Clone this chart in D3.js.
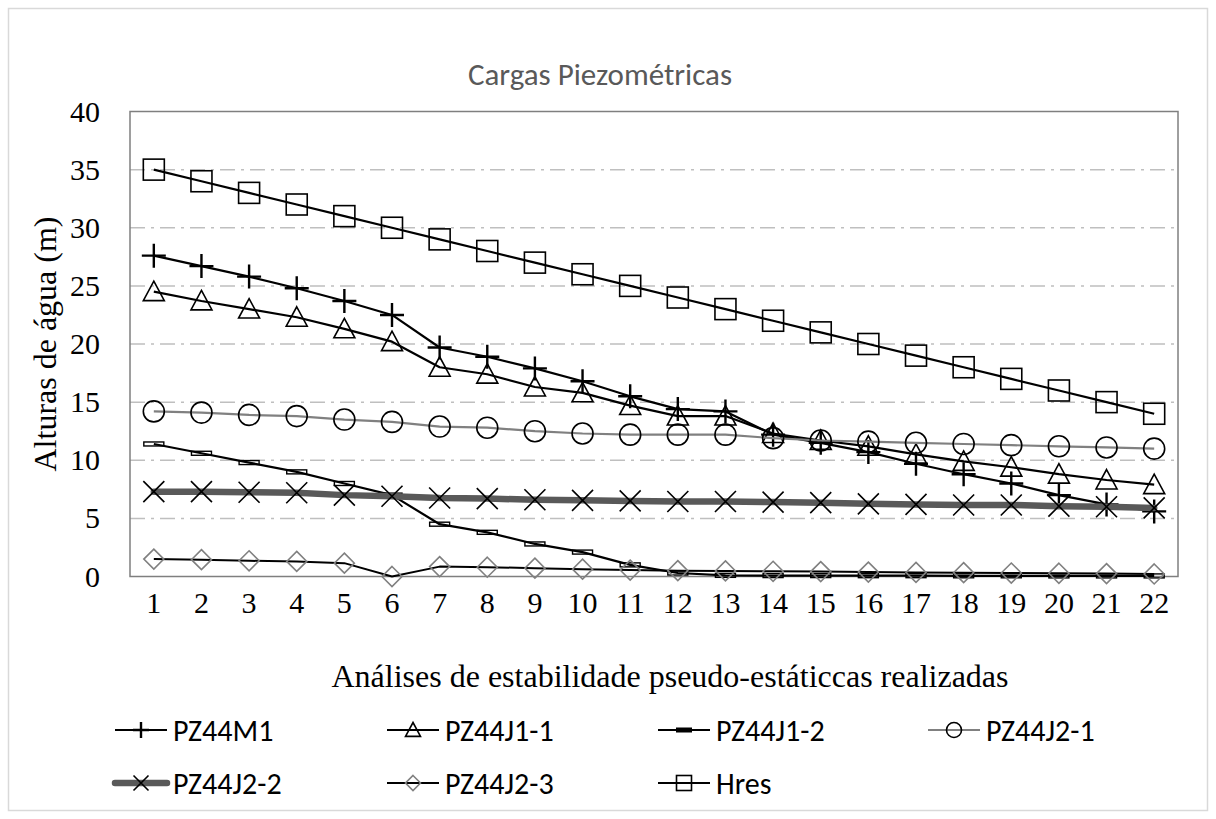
<!DOCTYPE html>
<html>
<head>
<meta charset="utf-8">
<script src="https://cdn.jsdelivr.net/npm/d3@7"></script>
<style>
  html, body { margin: 0; padding: 0; background: #fff; }
  svg { display: block; }
</style>
</head>
<body>
<svg id="chart" width="1216" height="819"></svg>
<script>
// Analysis runs (x categories)
const categories = d3.range(1, 23).map(String);

// Piezometric heads (m) per analysis
const pz44m1  = [27.6, 26.7, 25.8, 24.8, 23.7, 22.5, 19.7, 18.9, 17.9, 16.8, 15.5, 14.4, 14.2, 12.2, 11.5, 10.7, 9.7, 8.8, 8.0, 7.0, 6.2, 5.6];
const pz44j1_1 = [24.5, 23.7, 23.0, 22.3, 21.3, 20.2, 18.0, 17.4, 16.3, 15.8, 14.7, 13.8, 13.8, 12.3, 11.7, 11.2, 10.5, 9.9, 9.4, 8.8, 8.3, 7.9];
const pz44j1_2 = [11.4, 10.6, 9.8, 9.0, 8.0, 7.0, 4.5, 3.8, 2.8, 2.1, 1.0, 0.3, 0.1, 0.08, 0.08, 0.07, 0.07, 0.06, 0.06, 0.05, 0.05, 0.05];
const pz44j2_1 = [14.2, 14.1, 13.9, 13.8, 13.5, 13.3, 12.9, 12.8, 12.5, 12.3, 12.2, 12.2, 12.2, 11.9, 11.7, 11.6, 11.5, 11.4, 11.3, 11.2, 11.1, 11.0];
const pz44j2_2 = [7.3, 7.3, 7.25, 7.2, 7.0, 6.9, 6.75, 6.7, 6.6, 6.55, 6.5, 6.45, 6.45, 6.4, 6.35, 6.25, 6.2, 6.15, 6.15, 6.05, 6.0, 5.9];
const pz44j2_3 = [1.5, 1.45, 1.35, 1.3, 1.15, 0.0, 0.85, 0.8, 0.72, 0.63, 0.55, 0.5, 0.48, 0.45, 0.42, 0.38, 0.35, 0.33, 0.3, 0.28, 0.25, 0.22];
const hres     = [35, 34, 33, 32, 31, 30, 29, 28, 27, 26, 25, 24, 23, 22, 21, 20, 19, 18, 17, 16, 15, 14];

const seriesNames = ["PZ44M1", "PZ44J1-1", "PZ44J1-2", "PZ44J2-1", "PZ44J2-2", "PZ44J2-3", "Hres"];
const yTicks = [0, 5, 10, 15, 20, 25, 30, 35, 40];

const series = [
  { name: seriesNames[0], values: pz44m1,   line: "#000", width: 2.2, marker: "plus" },
  { name: seriesNames[1], values: pz44j1_1, line: "#000", width: 2.2, marker: "triangle" },
  { name: seriesNames[2], values: pz44j1_2, line: "#000", width: 2.2, marker: "dash" },
  { name: seriesNames[3], values: pz44j2_1, line: "#808080", width: 2.2, marker: "circle" },
  { name: seriesNames[4], values: pz44j2_2, line: "#595959", width: 6.5, marker: "cross" },
  { name: seriesNames[5], values: pz44j2_3, line: "#000", width: 2.0, marker: "diamond" },
  { name: seriesNames[6], values: hres,     line: "#000", width: 2.2, marker: "square" }
];

const svg = d3.select("#chart");
const W = 1216, H = 819;
const plot = { left: 130, right: 1178, top: 111.5, bottom: 576.5 };

const serif = "'Liberation Serif', 'Times New Roman', serif";
const sans = "Carlito, Calibri, Lato, 'Open Sans', sans-serif";

// Chart frame
svg.append("rect")
  .attr("x", 8.5).attr("y", 8.5).attr("width", W - 17).attr("height", H - 17)
  .attr("fill", "#fff").attr("stroke", "#d9d9d9").attr("stroke-width", 1.5);

const x = d3.scaleBand().domain(categories).range([plot.left, plot.right]);
const y = d3.scaleLinear().domain([0, 40]).range([plot.bottom, plot.top]);
const cx = i => x(categories[i]) + x.bandwidth() / 2;

// Gridlines
svg.append("g")
  .selectAll("line")
  .data(yTicks.filter(t => t > 0 && t < 40))
  .join("line")
  .attr("x1", plot.left).attr("x2", plot.right)
  .attr("y1", d => y(d)).attr("y2", d => y(d))
  .attr("stroke", "#bfbfbf").attr("stroke-width", 1.5)
  .attr("stroke-dasharray", "15,6,3,6");

// Plot area border
svg.append("rect")
  .attr("x", plot.left).attr("y", plot.top)
  .attr("width", plot.right - plot.left).attr("height", plot.bottom - plot.top)
  .attr("fill", "none").attr("stroke", "#7f7f7f").attr("stroke-width", 1.5);

// Y axis
const yAxis = svg.append("g")
  .attr("transform", `translate(${plot.left},0)`)
  .call(d3.axisLeft(y).tickValues(yTicks).tickSize(0).tickPadding(30));
yAxis.select(".domain").remove();
yAxis.selectAll("text")
  .attr("font-family", serif).attr("font-size", 30).attr("fill", "#000");

// X axis
const xAxis = svg.append("g")
  .attr("transform", `translate(0,${plot.bottom})`)
  .call(d3.axisBottom(x).tickSize(0).tickPadding(15));
xAxis.select(".domain").remove();
xAxis.selectAll("text")
  .attr("font-family", serif).attr("font-size", 30).attr("fill", "#000");

// Titles
svg.append("text")
  .attr("x", 600).attr("y", 85)
  .attr("text-anchor", "middle")
  .attr("font-family", sans).attr("font-size", 31).attr("fill", "#595959")
  .text("Cargas Piezométricas");

svg.append("text")
  .attr("x", (plot.left + plot.right) / 2 + 16).attr("y", 687)
  .attr("text-anchor", "middle")
  .attr("font-family", serif).attr("font-size", 32).attr("fill", "#000")
  .text("Análises de estabilidade pseudo-estáticcas realizadas");

svg.append("text")
  .attr("transform", `translate(56,${(plot.top + plot.bottom) / 2}) rotate(-90)`)
  .attr("text-anchor", "middle")
  .attr("font-family", serif).attr("font-size", 32).attr("fill", "#000")
  .text("Alturas de água (m)");

// Marker drawing
function drawMarker(g, type, s) {
  const h = s / 2;
  switch (type) {
    case "plus":
      g.append("path").attr("d", `M${-h},0H${h}M0,${-h}V${h}`)
        .attr("stroke", "#000").attr("stroke-width", 2.4).attr("fill", "none");
      break;
    case "triangle": {
      const r = h;
      g.append("path").attr("d", `M0,${-r}L${r},${r * 0.85}L${-r},${r * 0.85}Z`)
        .attr("stroke", "#000").attr("stroke-width", 1.6).attr("fill", "none");
      break;
    }
    case "dash":
      g.append("rect").attr("x", -h).attr("y", -2).attr("width", s).attr("height", 4)
        .attr("stroke", "#000").attr("stroke-width", 1.4).attr("fill", "none");
      break;
    case "circle":
      g.append("circle").attr("r", h)
        .attr("stroke", "#000").attr("stroke-width", 1.6).attr("fill", "none");
      break;
    case "cross":
      g.append("path").attr("d", `M${-h},${-h}L${h},${h}M${-h},${h}L${h},${-h}`)
        .attr("stroke", "#000").attr("stroke-width", 1.6).attr("fill", "none");
      break;
    case "diamond":
      g.append("path").attr("d", `M0,${-h}L${h},0L0,${h}L${-h},0Z`)
        .attr("stroke", "#808080").attr("stroke-width", 1.6).attr("fill", "none");
      break;
    case "square":
      g.append("rect").attr("x", -h).attr("y", -h).attr("width", s).attr("height", s)
        .attr("stroke", "#000").attr("stroke-width", 1.6).attr("fill", "none");
      break;
  }
}

const markerSize = { plus: 24, triangle: 21, dash: 20, circle: 21, cross: 21, diamond: 20, square: 21 };

const line = d3.line().x((d, i) => cx(i)).y(d => y(d));

// Series lines and markers
series.forEach(s => {
  const g = svg.append("g").attr("class", "series");
  g.append("path")
    .attr("d", line(s.values))
    .attr("fill", "none")
    .attr("stroke", s.line)
    .attr("stroke-width", s.width)
    .attr("stroke-linejoin", "round")
    .attr("stroke-linecap", s.marker === "cross" ? "round" : "butt");
  s.values.forEach((v, i) => {
    const m = g.append("g").attr("transform", `translate(${cx(i)},${y(v)})`);
    drawMarker(m, s.marker, markerSize[s.marker]);
  });
});

// Legend
const legendPos = [
  [115, 730], [387, 730], [658, 730], [928, 730],
  [115, 783], [387, 783], [658, 783]
];
series.forEach((s, k) => {
  const [lx, ly] = legendPos[k];
  const g = svg.append("g").attr("transform", `translate(${lx},${ly})`);
  g.append("line")
    .attr("x1", 0).attr("x2", 52).attr("y1", 0).attr("y2", 0)
    .attr("stroke", s.line)
    .attr("stroke-width", s.marker === "cross" ? 6.5 : 2)
    .attr("stroke-linecap", s.marker === "cross" ? "round" : "butt");
  const m = g.append("g").attr("transform", "translate(26,0)");
  if (s.marker === "dash") {
    m.append("rect").attr("x", -8).attr("y", -2.5).attr("width", 16).attr("height", 5).attr("fill", "#000");
  } else {
    drawMarker(m, s.marker, s.marker === "plus" ? 16 : 15);
  }
  g.append("text")
    .attr("x", 58).attr("y", 0).attr("dy", "0.35em")
    .attr("font-family", sans).attr("font-size", 30).attr("fill", "#000")
    .text(s.name);
});
</script>
</body>
</html>
